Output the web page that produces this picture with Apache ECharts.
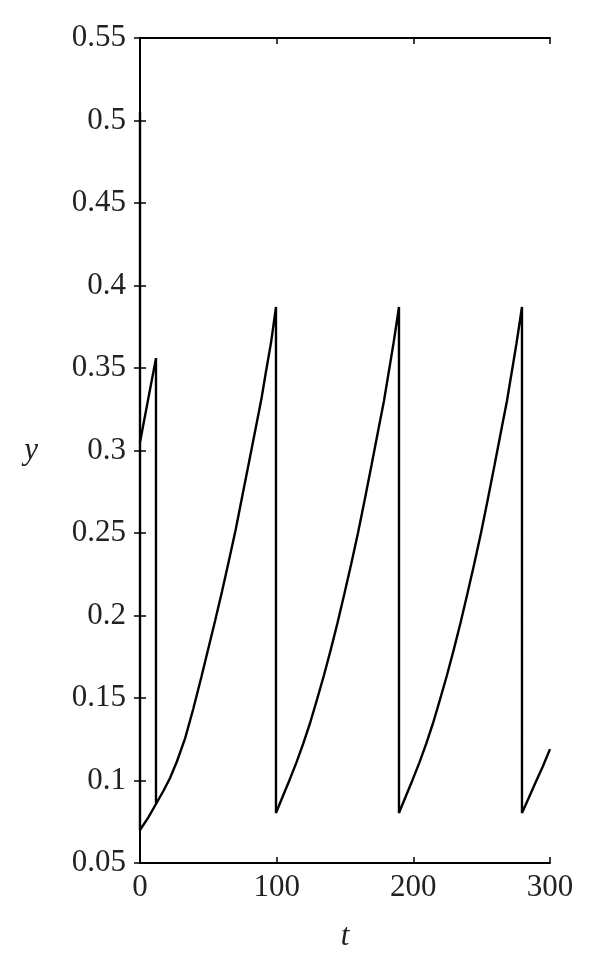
<!DOCTYPE html>
<html>
<head>
<meta charset="utf-8">
<script src="https://cdn.jsdelivr.net/npm/echarts@6/dist/echarts.min.js"></script>
<style>html,body{margin:0;padding:0;background:#fff;}#c{width:595px;height:979px;}</style>
</head>
<body>
<div id="c"></div>
<script>
// x ticks and y ticks
const xTicks = [0, 100, 200, 300];
const yTicks = [0.05, 0.1, 0.15, 0.2, 0.25, 0.3, 0.35, 0.4, 0.45, 0.5, 0.55];

// initial transient branch (t, y)
const branchT = [0, 11.7, 11.7];
const branchY = [0.305, 0.356, 0.0862];

// main trajectory: spike at t=0 then impulsive cycles
const cycle1T = [0, 0, 0, 6, 12, 17, 22, 27, 33, 39, 45, 50, 55, 60, 65, 70, 75, 80, 85, 89, 92, 96, 99.5];
const cycle1Y = [0.505, 0.07, 0.07, 0.0775, 0.0862, 0.0935, 0.1015, 0.1115, 0.1255, 0.1435, 0.163, 0.18, 0.197, 0.2145, 0.233, 0.252, 0.273, 0.294, 0.315, 0.332, 0.347, 0.366, 0.387];
const cycle2T = [99.5, 104.5, 109.5, 114.5, 119.5, 124.5, 129.5, 134.5, 139.5, 144.5, 149.5, 154.5, 159.5, 164.5, 169.5, 174.5, 178.5, 181.5, 185.5, 189.5];
const cycle2Y = [0.0803, 0.0905, 0.1005, 0.111, 0.1225, 0.135, 0.149, 0.1635, 0.179, 0.1955, 0.213, 0.231, 0.25, 0.2705, 0.2915, 0.313, 0.33, 0.345, 0.365, 0.387];
const cycle3T = [189.5, 194.5, 199.5, 204.5, 209.5, 214.5, 219.5, 224.5, 229.5, 234.5, 239.5, 244.5, 249.5, 254.5, 259.5, 264.5, 268.5, 271.5, 275.5, 279.5];
const cycle3Y = [0.0803, 0.0905, 0.1005, 0.111, 0.1225, 0.135, 0.149, 0.1635, 0.179, 0.1955, 0.213, 0.231, 0.25, 0.2705, 0.2915, 0.313, 0.33, 0.345, 0.365, 0.387];
const cycle4T = [279.5, 284.5, 289.5, 294.5, 300];
const cycle4Y = [0.0803, 0.0895, 0.099, 0.108, 0.119];

function pairs(ts, ys) { return ts.map((t, i) => [t, ys[i]]); }
const mainData = [].concat(pairs(cycle1T, cycle1Y), pairs(cycle2T, cycle2Y), pairs(cycle3T, cycle3Y), pairs(cycle4T, cycle4Y));
const branchData = pairs(branchT, branchY);

const FONT = '"Liberation Serif", "DejaVu Serif", serif';
const fmtY = v => String(parseFloat(v.toFixed(2)));

const chart = echarts.init(document.getElementById('c'), null, {renderer: 'canvas'});
const axisLine = {show: true, lineStyle: {color: '#000', width: 2}};
const tick = {show: true, inside: true, length: 6, lineStyle: {color: '#000', width: 1.5}};
chart.setOption({
  animation: false,
  backgroundColor: '#fff',
  grid: {left: 140, right: 45, top: 38, bottom: 116, containLabel: false},
  xAxis: [{
    type: 'value', min: xTicks[0], max: xTicks[xTicks.length - 1], interval: 100,
    position: 'bottom',
    axisLine: axisLine, axisTick: tick, splitLine: {show: false},
    axisLabel: {color: '#222', fontFamily: FONT, fontSize: 31, margin: 9},
    name: 't', nameLocation: 'middle', nameGap: 58,
    nameTextStyle: {color: '#222', fontFamily: FONT, fontSize: 31, fontStyle: 'italic'}
  }, {
    type: 'value', min: xTicks[0], max: xTicks[xTicks.length - 1], interval: 100,
    position: 'top',
    axisLine: axisLine, axisTick: tick, axisLabel: {show: false}, splitLine: {show: false}
  }],
  yAxis: [{
    type: 'value', min: yTicks[0], max: yTicks[yTicks.length - 1], interval: 0.05,
    position: 'left',
    axisLine: axisLine, axisTick: tick, splitLine: {show: false},
    axisLabel: {color: '#222', fontFamily: FONT, fontSize: 31, margin: 14, formatter: fmtY},
    name: 'y', nameLocation: 'middle', nameGap: 102, nameRotate: 0,
    nameTextStyle: {color: '#222', fontFamily: FONT, fontSize: 31, fontStyle: 'italic'}
  }, {
    type: 'value', min: yTicks[0], max: yTicks[yTicks.length - 1], interval: 0.05,
    position: 'right',
    axisLine: axisLine, axisTick: tick, axisLabel: {show: false}, splitLine: {show: false}
  }],
  series: [{
    type: 'line', data: mainData, xAxisIndex: 0, yAxisIndex: 0,
    showSymbol: false, smooth: false, lineStyle: {color: '#000', width: 2.4}
  }, {
    type: 'line', data: branchData, xAxisIndex: 0, yAxisIndex: 0,
    showSymbol: false, smooth: false, lineStyle: {color: '#000', width: 2.4}
  }]
});
</script>
</body>
</html>
